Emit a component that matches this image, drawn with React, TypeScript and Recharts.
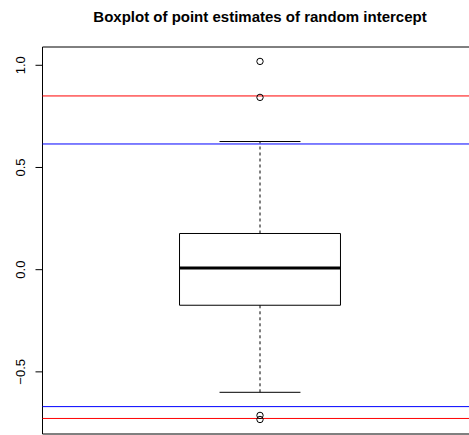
import {
  ComposedChart,
  XAxis,
  YAxis,
  Scatter,
  ReferenceLine,
  ReferenceArea,
} from "recharts";

const title = "Boxplot of point estimates of random intercept";

// y axis
const yTicks = [-0.5, 0, 0.5, 1.0];
const yDomain = [-0.804, 1.0895];
const xDomain = [0.5, 1.5];

// lower whisker, Q1, median, Q3, upper whisker
const boxStats = [-0.6, -0.174, 0.008, 0.177, 0.627];
const outliers = [1.019, 0.843, -0.713, -0.733];

// reference lines drawn over the box
const redLines = [0.85, -0.728];
const blueLines = [0.615, -0.67];

const boxLeft = 0.815;
const boxRight = 1.185;
const capLeft = 0.907;
const capRight = 1.093;

const outlierData = outliers.map((v) => ({ x: 1, y: v }));

const fmt = (v: number) => {
  const s = v.toFixed(1);
  return v < 0 ? "\u2212" + s.slice(1) : s;
};

const RotatedTick = (props: any) => {
  const { y, payload } = props;
  return (
    <text
      transform={`translate(25,${y}) rotate(-90)`}
      textAnchor="middle"
      fontSize={13}
      fontFamily="'Liberation Sans', Arial, sans-serif"
      fill="#000"
    >
      {fmt(payload.value)}
    </text>
  );
};

const OpenCircle = (props: any) => {
  const { cx, cy } = props;
  return <circle cx={cx} cy={cy} r={3.2} fill="none" stroke="#000" strokeWidth={1} />;
};

export default function App() {
  const [lw, q1, med, q3, uw] = boxStats;
  return (
    <div
      style={{
        position: "absolute",
        left: 0,
        top: 0,
        width: 469,
        height: 435,
        overflow: "hidden",
        background: "#fff",
      }}
    >
      <ComposedChart
        width={478}
        height={435}
        margin={{ top: 47, right: 0.5, bottom: 1, left: 0.5 }}
      >
        <XAxis type="number" dataKey="x" domain={xDomain} hide allowDataOverflow />
        <YAxis
          type="number"
          dataKey="y"
          domain={yDomain}
          ticks={yTicks}
          width={42}
          axisLine={false}
          tickSize={7}
          tickLine={{ stroke: "#000" }}
          tick={<RotatedTick />}
          allowDataOverflow
          interval={0}
        />
        {/* plot frame */}
        <ReferenceArea
          x1={xDomain[0]}
          x2={xDomain[1]}
          y1={yDomain[0]}
          y2={yDomain[1]}
          fill="none"
          stroke="#000"
          strokeWidth={1}
          ifOverflow="visible"
        />
        {/* whiskers */}
        <ReferenceLine
          segment={[{ x: 1, y: q3 }, { x: 1, y: uw }]}
          stroke="#000"
          strokeDasharray="3 3"
        />
        <ReferenceLine
          segment={[{ x: 1, y: lw }, { x: 1, y: q1 }]}
          stroke="#000"
          strokeDasharray="3 3"
        />
        <ReferenceLine segment={[{ x: capLeft, y: uw }, { x: capRight, y: uw }]} stroke="#000" />
        <ReferenceLine segment={[{ x: capLeft, y: lw }, { x: capRight, y: lw }]} stroke="#000" />
        {/* box */}
        <ReferenceArea
          x1={boxLeft}
          x2={boxRight}
          y1={q1}
          y2={q3}
          fill="#fff"
          fillOpacity={1}
          stroke="#000"
          strokeWidth={1}
        />
        <ReferenceLine
          segment={[{ x: boxLeft, y: med }, { x: boxRight, y: med }]}
          stroke="#000"
          strokeWidth={3}
        />
        <Scatter data={outlierData} shape={<OpenCircle />} isAnimationActive={false} />
        {redLines.map((v) => (
          <ReferenceLine key={"r" + v} y={v} stroke="#ff0000" strokeWidth={1} />
        ))}
        {blueLines.map((v) => (
          <ReferenceLine key={"b" + v} y={v} stroke="#0000ff" strokeWidth={1} />
        ))}
      </ComposedChart>
      <svg
        width={469}
        height={40}
        style={{ position: "absolute", left: 0, top: 0, pointerEvents: "none" }}
      >
        <text
          x={260}
          y={21.5}
          textAnchor="middle"
          fontSize={15}
          fontWeight="bold"
          fontFamily="'Liberation Sans', Arial, sans-serif"
          fill="#000"
        >
          {title}
        </text>
      </svg>
    </div>
  );
}
